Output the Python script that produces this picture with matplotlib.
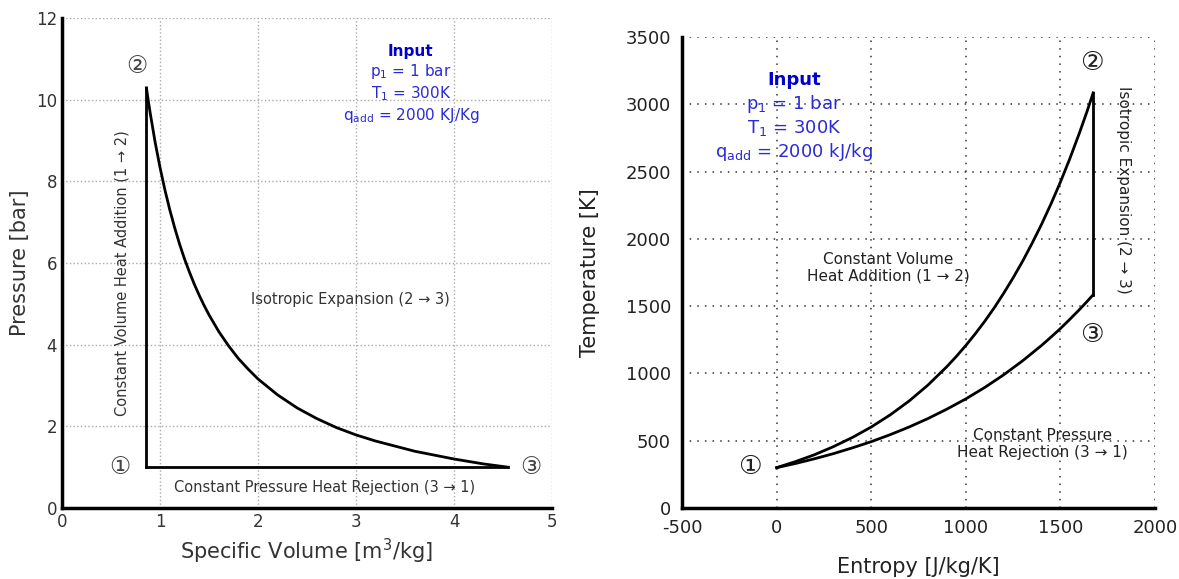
import matplotlib.pyplot as plt

plt.rcParams['font.family'] = ['DejaVu Sans', 'Noto Sans CJK JP']
plt.rcParams['axes.unicode_minus'] = False

# P-v diagram
v_cycle_start = [0.861, 0.861]
p_heat_add = [1.0, 10.29]
v_expansion = [0.861, 0.88, 0.9, 0.95, 1.0, 1.05, 1.1, 1.15, 1.2, 1.25, 1.3, 1.35,
               1.4, 1.45, 1.5, 1.6, 1.7, 1.8, 1.9, 2.0, 2.2, 2.4, 2.6, 2.8, 3.0,
               3.2, 3.6, 4.0, 4.3, 4.55]
p_expansion = [10.29, 9.98, 9.67, 8.96, 8.34, 7.79, 7.30, 6.86, 6.46, 6.10, 5.78, 5.48,
               5.21, 4.96, 4.73, 4.32, 3.97, 3.66, 3.40, 3.16, 2.77, 2.45, 2.19, 1.97, 1.79,
               1.64, 1.39, 1.20, 1.08, 1.0]
v_rejection = [4.55, 0.861]
p_rejection = [1.0, 1.0]

# T-s diagram
s_heat_add = [0, 100, 200, 300, 400, 500, 600, 700, 800, 900, 950, 1000, 1050, 1100,
              1150, 1200, 1250, 1300, 1350, 1400, 1450, 1500, 1550, 1600, 1640, 1673]
T_heat_add = [300, 345, 396, 456, 524, 602, 692, 795, 914, 1051, 1127, 1208, 1295, 1388,
              1488, 1596, 1711, 1834, 1967, 2108, 2260, 2423, 2598, 2786, 2945, 3085]
s_expansion = [1673, 1673]
T_expansion = [3085, 1585]
s_rejection = [1673, 1640, 1600, 1550, 1500, 1450, 1400, 1300, 1200, 1100, 1000, 900,
               800, 700, 600, 500, 400, 300, 200, 100, 0]
T_rejection = [1585, 1534, 1474, 1403, 1334, 1270, 1208, 1094, 990, 896, 811, 735,
               665, 602, 545, 493, 447, 404, 366, 331, 300]

fig = plt.figure(figsize=(11.79, 5.79), dpi=100)
ax1 = fig.add_axes([0.0526, 0.1226, 0.4156, 0.8463])
ax2 = fig.add_axes([0.5785, 0.1226, 0.4012, 0.8135])

blue_title = '#0000cc'
blue_text = '#2b2bd6'

# ---- left: P-v ----
ax1.plot(v_cycle_start, p_heat_add, color='black', lw=2)
ax1.plot(v_expansion, p_expansion, color='black', lw=2)
ax1.plot(v_rejection, p_rejection, color='black', lw=2)
ax1.set_xlim(0, 5)
ax1.set_ylim(0, 12)
ax1.set_xticks([0, 1, 2, 3, 4, 5])
ax1.set_yticks([0, 2, 4, 6, 8, 10, 12])
ax1.grid(True, linestyle=':', color='#aaaaaa', lw=1)
ax1.set_xlabel('Specific Volume [m$^3$/kg]', fontsize=15, color='#333333', labelpad=4)
ax1.set_ylabel('Pressure [bar]', fontsize=15, color='#333333', labelpad=4)
ax1.tick_params(labelsize=12, colors='#333333', length=0)
for side in ['top', 'right']:
    ax1.spines[side].set_visible(False)
for side in ['left', 'bottom']:
    ax1.spines[side].set_linewidth(2.5)

ax1.text(0.765, 10.82, '②', fontsize=17, ha='center', va='center', color='#444444')
ax1.text(0.59, 1.0, '①', fontsize=17, ha='center', va='center', color='#444444')
ax1.text(4.78, 1.0, '③', fontsize=17, ha='center', va='center', color='#444444')
ax1.text(0.61, 5.75, 'Constant Volume Heat Addition (1 → 2)', rotation=90,
         fontsize=10.5, ha='center', va='center', color='#333333')
ax1.text(2.94, 5.1, 'Isotropic Expansion (2 → 3)', fontsize=10.5,
         ha='center', va='center', color='#333333')
ax1.text(2.68, 0.51, 'Constant Pressure Heat Rejection (3 → 1)', fontsize=10.5,
         ha='center', va='center', color='#333333')
ax1.text(3.56, 11.19, 'Input', fontsize=11, fontweight='bold', ha='center',
         va='center', color=blue_title)
ax1.text(3.56, 10.68, 'p$_1$ = 1 bar', fontsize=11, ha='center', va='center', color=blue_text)
ax1.text(3.56, 10.14, 'T$_1$ = 300K', fontsize=11, ha='center', va='center', color=blue_text)
ax1.text(3.56, 9.62, 'q$_\\mathrm{add}$ = 2000 KJ/Kg', fontsize=11, ha='center',
         va='center', color=blue_text)

# ---- right: T-s ----
ax2.plot(s_heat_add, T_heat_add, color='black', lw=2)
ax2.plot(s_expansion, T_expansion, color='black', lw=2)
ax2.plot(s_rejection, T_rejection, color='black', lw=2)
ax2.set_xlim(-500, 2000)
ax2.set_ylim(0, 3500)
ax2.set_xticks([-500, 0, 500, 1000, 1500, 2000])
ax2.set_yticks([0, 500, 1000, 1500, 2000, 2500, 3000, 3500])
ax2.grid(True, linestyle=(0, (1, 4)), color='#333333', lw=1.1)
ax2.set_xlabel('Entropy [J/kg/K]', fontsize=15, color='#222222', labelpad=14)
ax2.set_ylabel('Temperature [K]', fontsize=15, color='#222222', labelpad=18)
ax2.tick_params(labelsize=13, colors='#222222', length=0, pad=8)
for side in ['top', 'right']:
    ax2.spines[side].set_visible(False)
for side in ['left', 'bottom']:
    ax2.spines[side].set_linewidth(2.5)

ax2.text(1667, 3307, '②', fontsize=19, ha='center', va='center', color='#222222')
ax2.text(1667, 1286, '③', fontsize=19, ha='center', va='center', color='#222222')
ax2.text(-141, 305, '①', fontsize=19, ha='center', va='center', color='#222222')
ax2.text(589, 1784, 'Constant Volume\nHeat Addition (1 → 2)', fontsize=11,
         ha='center', va='center', color='#222222', linespacing=1.1)
ax2.text(1403, 476, 'Constant Pressure\nHeat Rejection (3 → 1)', fontsize=11,
         ha='center', va='center', color='#222222', linespacing=1.1)
ax2.text(1831, 2363, 'Isotropic Expansion (2 → 3)', rotation=-90, fontsize=11,
         ha='center', va='center', color='#222222')
ax2.text(92, 3180, 'Input', fontsize=13, fontweight='bold', ha='center',
         va='center', color=blue_title)
ax2.text(92, 3002, 'p$_1$ = 1 bar', fontsize=13, ha='center', va='center', color=blue_text)
ax2.text(92, 2824, 'T$_1$ = 300K', fontsize=13, ha='center', va='center', color=blue_text)
ax2.text(92, 2645, 'q$_\\mathrm{add}$ = 2000 kJ/kg', fontsize=13, ha='center',
         va='center', color=blue_text)

fig.savefig('out.png', dpi=100)
